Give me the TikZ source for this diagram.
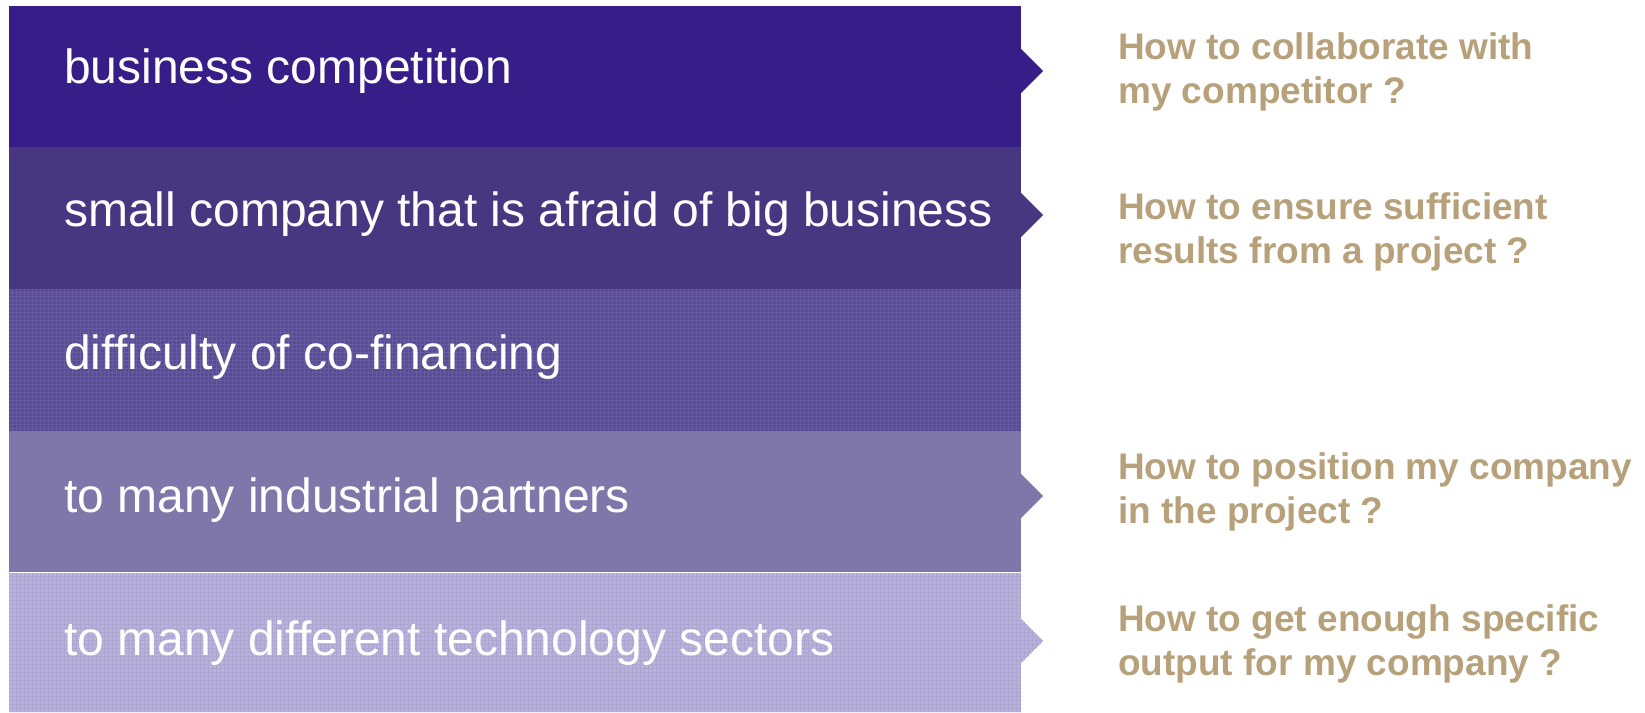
\documentclass[tikz,border=0pt]{standalone}
\usepackage{fontspec}
\setmainfont{Liberation Sans}
\definecolor{rowA}{RGB}{54,29,135}
\definecolor{rowB}{RGB}{70,55,128}
\definecolor{rowC}{RGB}{88,76,148}
\definecolor{rowCdot}{RGB}{120,110,175}
\definecolor{rowD}{RGB}{127,118,170}
\definecolor{rowE}{RGB}{184,178,216}
\definecolor{rowEdot}{RGB}{160,153,203}
\definecolor{qcol}{RGB}{183,161,123}
\tikzset{
  rowtxt/.style={anchor=base west, text=white, font=\fontsize{48}{48}\selectfont, inner sep=0pt},
  qtxt/.style={anchor=base west, text=qcol, font=\bfseries\fontsize{37}{44}\selectfont, align=left, inner sep=0pt},
  rowbox/.style={anchor=north west, inner sep=0pt, minimum width=1012pt, minimum height=#1, draw=none},
}
\begin{document}
\begin{tikzpicture}[x=1pt,y=-1pt]
\useasboundingbox (0,0) rectangle (1645,712);
% rows
\node[rowbox=141pt, fill=rowA] (r1) at (9,6) {};
\node[rowbox=142pt, fill=rowB] (r2) at (9,147) {};
\node[rowbox=142pt, fill=rowC] (r3) at (9,289) {};
\node[rowbox=141pt, fill=rowD] (r4) at (9,431) {};
\node[rowbox=139pt, fill=rowE] (r5) at (9,573) {};
% arrow tips
\fill[rowA] (1020,48) -- (1043,71) -- (1020,94) -- cycle;
\fill[rowB] (1020,192) -- (1043,215) -- (1020,238) -- cycle;
\fill[rowD] (1020,473) -- (1043,496) -- (1020,519) -- cycle;
\fill[rowE] (1020,618) -- (1043,641) -- (1020,664) -- cycle;
% texture on patterned rows
\begin{scope}
\clip (r3.north west) rectangle (r3.south east);
\draw[rowCdot, line width=0.8pt, opacity=0.45, step=4pt] (r3.north west) grid (r3.south east);
\end{scope}
\begin{scope}
\clip (r5.north west) -- (r5.north east) -- (1021,618) -- (1043,641) -- (1021,664) -- (r5.south east) -- (r5.south west) -- cycle;
\draw[rowEdot, line width=0.8pt, opacity=0.45, step=4pt] (r5.north west) grid (1044,712);
\end{scope}
% row labels
\node[rowtxt] (t1) at (64,83) {business competition};
\node[rowtxt] (t2) at (64,226) {small company that is afraid of big business};
\node[rowtxt] (t3) at (64,369) {difficulty of co-financing};
\node[rowtxt] (t4) at (64,512) {to many industrial partners};
\node[rowtxt] (t5) at (64,655) {to many different technology sectors};
% questions (anchored at the baseline of the last line)
\node[qtxt] (q1) at (1118,103) {How to collaborate with\\my competitor ?};
\node[qtxt] (q2) at (1118,263) {How to ensure sufficient\\results from a project ?};
\node[qtxt] (q4) at (1118,523) {How to position my company\\in the project ?};
\node[qtxt] (q5) at (1118,675) {How to get enough specific\\output for my company ?};
\end{tikzpicture}
\end{document}
